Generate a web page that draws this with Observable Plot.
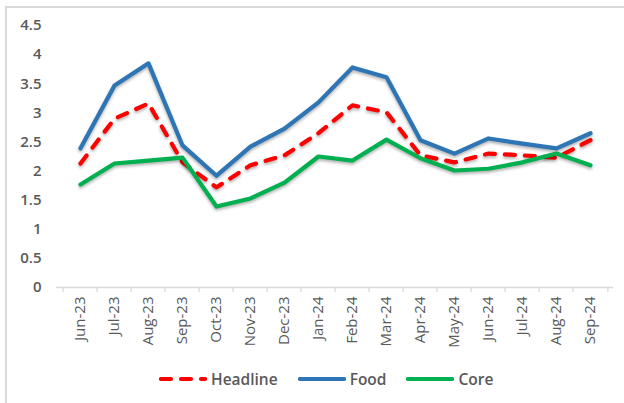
<!DOCTYPE html>
<html>
<head>
<meta charset="utf-8">
<script src="https://cdn.jsdelivr.net/npm/d3@7"></script>
<script src="https://cdn.jsdelivr.net/npm/@observablehq/plot@0.6"></script>
<style>
  html, body { margin: 0; padding: 0; background: #fff; }
  #wrap { position: relative; width: 624px; height: 403px; overflow: hidden; font-family: "Open Sans", sans-serif; }
  #frame { position: absolute; left: 5px; top: 6px; width: 700px; height: 500px; border-top: 2px solid #d9d9d9; border-left: 2px solid #d9d9d9; z-index: 2; pointer-events: none; }
  #chart { position: absolute; left: 0; top: 0; }
  #chart svg g[aria-label^="y-axis"] text { font: 600 15px "Open Sans", sans-serif; fill: #595959; }
  #chart svg g[aria-label^="x-axis"] text { font: 400 15px "Open Sans", sans-serif; fill: #595959; }
  #chart svg g[aria-label="line"] path { filter: drop-shadow(0px 2px 1.5px rgba(0,0,0,0.3)); }
  #legend { position: absolute; top: 368px; left: 159px; display: flex; align-items: center; gap: 20px; font: 600 15.5px "Open Sans", sans-serif; color: #595959; }
  #legend .item { display: flex; align-items: center; gap: 4px; }
</style>
</head>
<body>
<div id="wrap">
  <div id="chart"></div>
  <div id="frame"></div>
  <div id="legend"></div>
</div>
<script>
const months = ["Jun-23","Jul-23","Aug-23","Sep-23","Oct-23","Nov-23","Dec-23","Jan-24","Feb-24","Mar-24","Apr-24","May-24","Jun-24","Jul-24","Aug-24","Sep-24"];
const headline = [2.13, 2.90, 3.16, 2.15, 1.72, 2.10, 2.27, 2.65, 3.13, 3.01, 2.27, 2.15, 2.30, 2.27, 2.23, 2.53];
const food     = [2.39, 3.47, 3.85, 2.44, 1.92, 2.42, 2.73, 3.18, 3.78, 3.61, 2.53, 2.30, 2.56, 2.47, 2.39, 2.65];
const core     = [1.77, 2.13, 2.18, 2.23, 1.39, 1.53, 1.80, 2.25, 2.18, 2.54, 2.22, 2.01, 2.04, 2.15, 2.30, 2.10];
const yTicks = [0, 0.5, 1, 1.5, 2, 2.5, 3, 3.5, 4, 4.5];

const seriesNames = ["Headline", "Food", "Core"];
const seriesValues = [headline, food, core];
const seriesColors = ["#ff0000", "#2e75b6", "#00b050"];
const seriesDash = ["10,10", null, null];

const data = [];
seriesNames.forEach((name, i) => {
  months.forEach((m, j) => data.push({series: name, month: m, value: seriesValues[i][j]}));
});

const W = 624, H = 360, ML = 56, MR = 11, MT = 25, MB = 73;
const step = (W - ML - MR) / months.length;

const lineMarks = seriesNames.map((name, i) =>
  Plot.line(data.filter(d => d.series === name), {
    x: "month", y: "value",
    stroke: seriesColors[i], strokeWidth: 4.2,
    strokeDasharray: seriesDash[i] || undefined,
    strokeLinecap: "round", strokeLinejoin: "round"
  })
);

const chart = Plot.plot({
  width: W, height: H,
  marginLeft: ML, marginRight: MR, marginTop: MT, marginBottom: MB,
  style: {background: "transparent", overflow: "visible"},
  x: {type: "point", domain: months, padding: 0.5, label: null, tickSize: 0, tickRotate: -90, tickPadding: 9},
  y: {domain: [0, 4.5], ticks: yTicks, tickFormat: d => String(d), tickSize: 0, tickPadding: 15, label: null},
  marks: [
    Plot.ruleY([0], {stroke: "#d9d9d9", strokeWidth: 1.3}),
    Plot.ruleX(months, {x: d => d, y1: 0, y2: -0.085, dx: -step / 2, stroke: "#d9d9d9", strokeWidth: 1.3}),
    Plot.ruleX(months.slice(-1), {x: d => d, y1: 0, y2: -0.085, dx: step / 2, stroke: "#d9d9d9", strokeWidth: 1.3}),
    ...lineMarks
  ]
});
document.getElementById("chart").appendChild(chart);

const legend = document.getElementById("legend");
seriesNames.forEach((name, i) => {
  const item = document.createElement("div");
  item.className = "item";
  const ns = "http://www.w3.org/2000/svg";
  const sw = document.createElementNS(ns, "svg");
  sw.setAttribute("width", "48"); sw.setAttribute("height", "8");
  const ln = document.createElementNS(ns, "line");
  ln.setAttribute("x1", "2"); ln.setAttribute("x2", "46");
  ln.setAttribute("y1", "4"); ln.setAttribute("y2", "4");
  ln.setAttribute("stroke", seriesColors[i]);
  ln.setAttribute("stroke-width", "4.2");
  ln.setAttribute("stroke-linecap", "round");
  if (seriesDash[i]) ln.setAttribute("stroke-dasharray", seriesDash[i]);
  sw.appendChild(ln);
  const label = document.createElement("span");
  label.textContent = name;
  item.appendChild(sw); item.appendChild(label);
  legend.appendChild(item);
});
</script>
</body>
</html>
